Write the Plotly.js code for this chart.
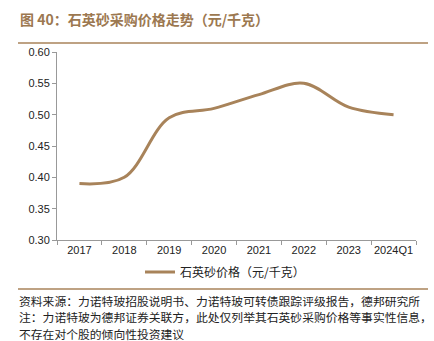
<!DOCTYPE html>
<html>
<head>
<meta charset="utf-8">
<script src="https://cdn.plot.ly/plotly-3.0.1.min.js"></script>
<style>html,body{margin:0;padding:0;background:#fff;}#chart{width:434px;height:341px;}</style>
</head>
<body>
<div id="chart"></div>
<script>
const categories = ['2017','2018','2019','2020','2021','2022','2023','2024Q1'];
const priceValues = [0.39, 0.40, 0.495, 0.51, 0.532, 0.55, 0.512, 0.50];
const yTickValues = [0.30, 0.35, 0.40, 0.45, 0.50, 0.55, 0.60];
const seriesName = '石英砂价格（元/千克）';
const titleText = '图 40：石英砂采购价格走势（元/千克）';
const sourceLines = [
  '资料来源：力诺特玻招股说明书、力诺特玻可转债跟踪评级报告，德邦研究所',
  '注：力诺特玻为德邦证券关联方，此处仅列举其石英砂采购价格等事实性信息，',
  '不存在对个股的倾向性投资建议'
];

const W = 434, H = 341;
const L = 57, R = 18, T = 52, B = 101;
const pw = W - L - R, ph = H - T - B;
const px = x => (x - L) / pw;
const py = y => (H - B - y) / ph;
const brown = '#a8835a';
const cjk = '"Noto Sans CJK SC", "Noto Sans", sans-serif';

const annotations = [
  {text: '<b>' + titleText + '</b>', xref: 'paper', yref: 'paper', x: px(18), y: py(19),
   xanchor: 'left', yanchor: 'middle', showarrow: false,
   font: {family: cjk, size: 14, color: '#9c7850'}}
];
sourceLines.forEach((t, i) => annotations.push({
  text: t, xref: 'paper', yref: 'paper', x: px(17), y: py(300 + i * 16.5),
  xanchor: 'left', yanchor: 'middle', showarrow: false,
  font: {family: cjk, size: 11.8, color: '#222'}
}));

const layout = {
  width: W, height: H,
  margin: {l: L, r: R, t: T, b: B},
  paper_bgcolor: '#fff', plot_bgcolor: '#fff',
  showlegend: true,
  legend: {orientation: 'h', x: px(140), xanchor: 'left', y: py(272), yanchor: 'middle',
    font: {family: cjk, size: 12, color: '#222'}, itemwidth: 30},
  xaxis: {type: 'category', range: [-0.5, categories.length - 0.5], showgrid: false, showline: true, linecolor: '#999', linewidth: 1,
    ticks: 'outside', tickson: 'boundaries', ticklen: 4, tickcolor: '#999', tickangle: 0,
    tickfont: {family: 'Liberation Sans, Arial, sans-serif', size: 11, color: '#222'},
    zeroline: false},
  yaxis: {range: [0.30, 0.60], tickvals: yTickValues, ticktext: yTickValues.map(v => v.toFixed(2)),
    showgrid: false, showline: true, linecolor: '#999', linewidth: 1,
    ticks: 'outside', ticklen: 4, tickcolor: '#999', zeroline: false,
    tickfont: {family: 'Liberation Sans, Arial, sans-serif', size: 11, color: '#222'}},
  shapes: [
    {type: 'line', xref: 'paper', yref: 'paper', x0: px(18), x1: px(428), y0: py(43), y1: py(43),
     line: {color: '#a8835a', width: 1.5}},
    {type: 'line', xref: 'paper', yref: 'paper', x0: px(18), x1: px(428), y0: py(289), y1: py(289),
     line: {color: '#a8835a', width: 1.5}}
  ],
  annotations: annotations
};

Plotly.newPlot('chart', [{
  x: categories, y: priceValues, type: 'scatter', mode: 'lines', name: seriesName,
  line: {color: brown, width: 3, shape: 'spline', smoothing: 1}
}], layout, {displayModeBar: false, staticPlot: true});
</script>
</body>
</html>
